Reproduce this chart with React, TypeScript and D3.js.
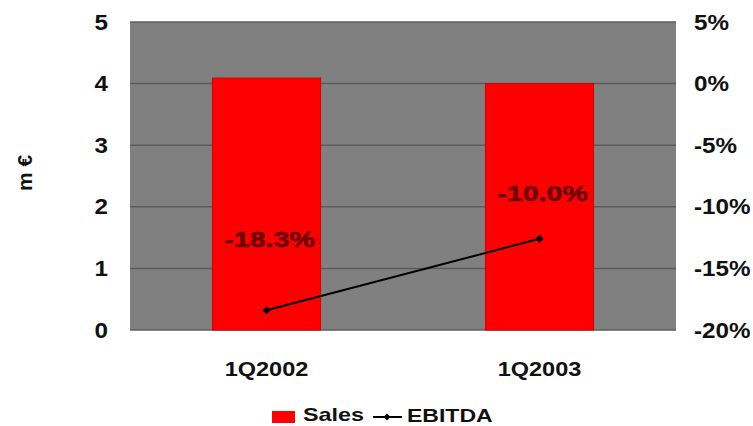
import React from "react";
import * as d3 from "d3";

const categories = ["1Q2002", "1Q2003"];
const sales = [4.09, 4.0];
const ebitda = [-18.4, -12.6];
const ebitdaLabels = ["-18.3%", "-10.0%"];
const labelAnchor = [-12.6, -8.9];
const leftTicks = [0, 1, 2, 3, 4, 5];
const rightTicks = [-20, -15, -10, -5, 0, 5];

const W = 753;
const H = 426;
const plot = { left: 130, right: 676, top: 22, bottom: 330 };
const FONT = "'Liberation Sans', Arial, sans-serif";

export default function App() {
  const x = d3
    .scaleBand<string>()
    .domain(categories)
    .range([plot.left, plot.right])
    .paddingInner(0.604)
    .paddingOuter(0.302);
  const yL = d3.scaleLinear().domain([0, 5]).range([plot.bottom, plot.top]);
  const yR = d3.scaleLinear().domain([-20, 5]).range([plot.bottom, plot.top]);
  const cx = (c: string) => (x(c) as number) + x.bandwidth() / 2;

  const line = d3
    .line<number>()
    .x((_, i) => cx(categories[i]))
    .y((d) => yR(d));

  const diamond = (px: number, py: number, r = 4) =>
    `M${px},${py - r}L${px + r},${py}L${px},${py + r}L${px - r},${py}Z`;

  const sText = (
    tx: number,
    ty: number,
    txt: string,
    opts: { size: number; sx: number; anchor?: string; fill?: string; key?: string; stroke?: string }
  ) => (
    <text
      key={opts.key ?? txt}
      transform={`translate(${tx},${ty}) scale(${opts.sx},1)`}
      fontFamily={FONT}
      fontWeight="bold"
      fontSize={opts.size}
      textAnchor={opts.anchor ?? "middle"}
      dominantBaseline="central"
      fill={opts.fill ?? "#111"}
      stroke={opts.stroke ?? "none"}
      strokeWidth={opts.stroke ? 0.6 : 0}
    >
      {txt}
    </text>
  );

  return (
    <svg
      width={W}
      height={H}
      style={{ position: "absolute", left: 0, top: 0, display: "block", background: "#fff" }}
    >
      <rect
        x={plot.left}
        y={plot.top}
        width={plot.right - plot.left}
        height={plot.bottom - plot.top}
        fill="#808080"
      />
      {leftTicks.map((t) => (
        <line
          key={"g" + t}
          x1={plot.left}
          x2={plot.right}
          y1={yL(t)}
          y2={yL(t)}
          stroke="#5c5c5c"
          strokeWidth={1.5}
        />
      ))}
      {categories.map((c, i) => (
        <rect
          key={c}
          x={x(c)}
          y={yL(sales[i])}
          width={x.bandwidth()}
          height={yL(0) - yL(sales[i])}
          fill="#ff0000"
          stroke="#d40000"
          strokeWidth={1}
        />
      ))}
      <path d={line(ebitda) || ""} fill="none" stroke="#000" strokeWidth={2} />
      {ebitda.map((v, i) => (
        <path key={"m" + i} d={diamond(cx(categories[i]), yR(v))} fill="#000" />
      ))}
      {ebitdaLabels.map((l, i) =>
        sText(cx(categories[i]) + 3, yR(labelAnchor[i]), l, {
          size: 22,
          sx: 1.3,
          fill: "#6e0000",
          stroke: "#6e0000",
          key: "l" + i,
        })
      )}
      {leftTicks.map((t) =>
        sText(108, yL(t), String(t), { size: 22, sx: 1.1, anchor: "end", key: "lt" + t })
      )}
      {rightTicks.map((t) =>
        sText(694, yR(t), `${t}%`, { size: 22, sx: 1.1, anchor: "start", key: "rt" + t })
      )}
      {categories.map((c) =>
        sText(cx(c), 369, c, { size: 21, sx: 1.12, key: "c" + c })
      )}
      <text
        transform="translate(24,173) rotate(-90)"
        fontFamily={FONT}
        fontWeight="bold"
        fontSize={21}
        textAnchor="middle"
        dominantBaseline="central"
        fill="#111"
      >
        m €
      </text>
      <rect x={272} y={411} width={23} height={12} fill="#ff0000" />
      {sText(303, 415, "Sales", { size: 18, sx: 1.3, anchor: "start", key: "legS" })}
      <line x1={373} x2={402} y1={417} y2={417} stroke="#000" strokeWidth={2} />
      <path d={diamond(387, 417, 3.5)} fill="#000" />
      {sText(407, 415, "EBITDA", { size: 18, sx: 1.28, anchor: "start", key: "legE" })}
    </svg>
  );
}
